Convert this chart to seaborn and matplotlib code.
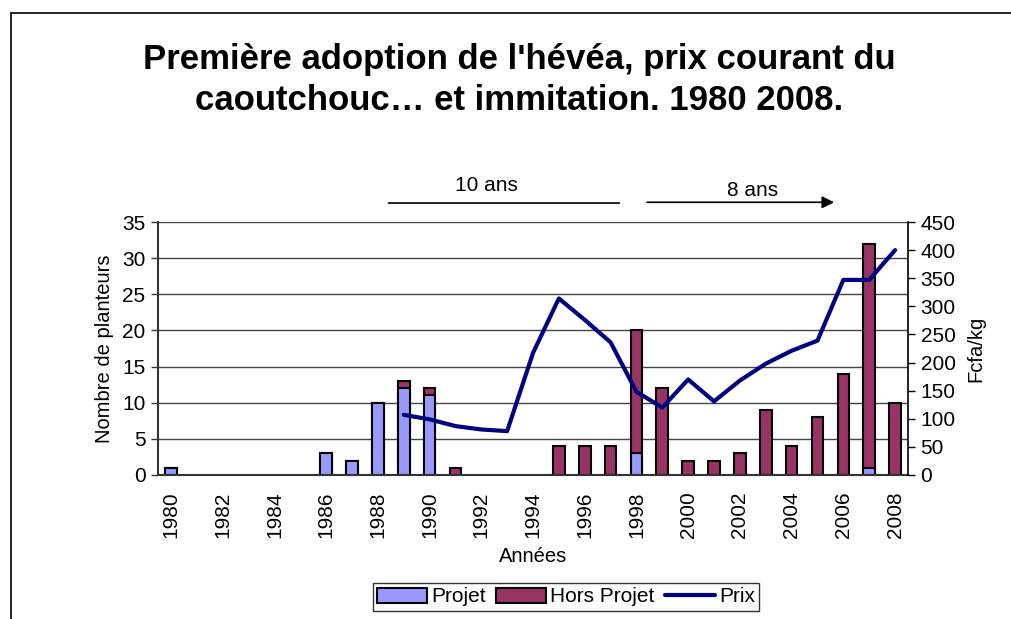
import numpy as np
import pandas as pd
import matplotlib
matplotlib.use("Agg")
import matplotlib.pyplot as plt
import matplotlib.transforms as mtransforms
from matplotlib.patches import Patch
from matplotlib.lines import Line2D
import seaborn as sns

# Data
years = list(range(1980, 2009))
projet = [1, 0, 0, 0, 0, 0, 3, 2, 10, 12, 11, 0, 0, 0, 0, 0, 0, 0, 3, 0,
          0, 0, 0, 0, 0, 0, 0, 1, 0]
hors_projet = [0, 0, 0, 0, 0, 0, 0, 0, 0, 1, 1, 1, 0, 0, 0, 4, 4, 4, 17, 12,
               2, 2, 3, 9, 4, 8, 14, 31, 10]
prix_years = list(range(1989, 2009))
prix = [107, 99, 87, 81, 78, 217, 314, 276, 236, 148, 120, 170, 131, 168,
        198, 221, 239, 347, 347, 400]
x_labels = [str(y) for y in range(1980, 2009, 2)]

df = pd.DataFrame({"annee": years, "projet": projet, "hors": hors_projet})
df["total"] = df["projet"] + df["hors"]
df_tot = df[df["total"] > 0]
df_proj = df[df["projet"] > 0]
df_prix = pd.DataFrame({"annee": prix_years, "prix": prix})

c_projet = "#9999FF"
c_hors = "#993366"
c_prix = "#000080"

sns.set_theme(style="white")
plt.rcParams["font.family"] = ["Liberation Sans", "DejaVu Sans"]
plt.rcParams.update({"text.color": "black", "axes.labelcolor": "black",
                     "xtick.color": "black", "ytick.color": "black"})

fig = plt.figure(figsize=(10.11, 6.19), dpi=100)
ax = fig.add_axes([158 / 1011, 1 - 475 / 619, 750 / 1011, 253 / 619])

# stacked bars: total first (Hors Projet colour), Projet drawn over the bottom part
sns.barplot(data=df_tot, x="annee", y="total", native_scale=True, width=0.45,
            color=c_hors, saturation=1, edgecolor="black", linewidth=1.5, ax=ax)
sns.barplot(data=df_proj, x="annee", y="projet", native_scale=True, width=0.45,
            color=c_projet, saturation=1, edgecolor="black", linewidth=1.5, ax=ax)

ax.set_xlim(1979.5, 2008.5)
ax.set_ylim(0, 35)
ax.set_yticks(range(0, 36, 5))
ax.set_xticks(range(1980, 2009, 2))
ax.set_xticklabels(x_labels, rotation=90)
ax.set_xticks(np.arange(1979.5, 2009, 1), minor=True)
ax.tick_params(axis="x", which="major", length=0, pad=12, labelsize=15)
ax.tick_params(axis="x", which="minor", length=5, width=1, color="#333333", direction="out")
ax.tick_params(axis="y", length=5, width=1, color="#333333", direction="out",
               labelsize=15, pad=4)
ax.grid(axis="y", color="#444444", linewidth=1)
ax.set_axisbelow(True)
for s in ["top", "right"]:
    ax.spines[s].set_visible(False)
for s in ["left", "bottom"]:
    ax.spines[s].set_color("#333333")
    ax.spines[s].set_linewidth(1.5)
ax.set_xlabel("Années", fontsize=14.5, labelpad=6)
ax.set_ylabel("Nombre de planteurs", fontsize=14.5, labelpad=6)

# price on the secondary axis
ax2 = ax.twinx()
sns.lineplot(data=df_prix, x="annee", y="prix", color=c_prix, linewidth=3, ax=ax2)
ax2.set_ylim(0, 450)
ax2.set_yticks(range(0, 451, 50))
ax2.tick_params(axis="y", length=5, width=1, color="black", direction="out",
                labelsize=15, pad=4)
ax2.grid(False)
for s in ["top", "left", "bottom"]:
    ax2.spines[s].set_visible(False)
ax2.spines["right"].set_color("black")
ax2.spines["right"].set_linewidth(1.2)
ax2.set_ylabel("Fcfa/kg", fontsize=14.5, labelpad=8)
ax2.set_xlabel("")

# period annotations above the plot
trans = mtransforms.blended_transform_factory(ax.transData, ax.transAxes)
ax.annotate("", xy=(1997.45, 1.075), xytext=(1988.3, 1.075), xycoords=trans,
            textcoords=trans, annotation_clip=False,
            arrowprops=dict(arrowstyle="-", color="black", lw=1.2))
ax.annotate("", xy=(2005.75, 1.078), xytext=(1998.3, 1.078), xycoords=trans,
            textcoords=trans, annotation_clip=False,
            arrowprops=dict(arrowstyle="-|>", color="black", lw=1.2,
                            mutation_scale=18))
ax.text(1992.2, 1.145, "10 ans", transform=trans, ha="center", va="center", fontsize=15)
ax.text(2002.5, 1.125, "8 ans", transform=trans, ha="center", va="center", fontsize=15)

fig.suptitle("Première adoption de l'hévéa, prix courant du\n"
             "caoutchouc… et immitation. 1980 2008.",
             x=519 / 1011, y=1 - 43 / 619, va="top", fontsize=25,
             fontweight="bold", linespacing=1.3)

handles = [Patch(facecolor=c_projet, edgecolor="black", linewidth=1.5),
           Patch(facecolor=c_hors, edgecolor="black", linewidth=1.5),
           Line2D([0], [0], color=c_prix, linewidth=3)]
leg = fig.legend(handles, ["Projet", "Hors Projet", "Prix"], loc="center",
                 bbox_to_anchor=(566 / 1011, 1 - 597 / 619), ncol=3,
                 fontsize=15, frameon=True, fancybox=False, handlelength=2.4,
                 handleheight=0.7, handletextpad=0.2, columnspacing=0.5,
                 borderpad=0.2, borderaxespad=0)
leg.get_frame().set_edgecolor("black")
leg.get_frame().set_linewidth(1)

# outer chart frame (left and top edges visible in the reference)
fig.add_artist(Line2D([11 / 1011, 11 / 1011], [0, 1 - 13 / 619], color="black", lw=1.2))
fig.add_artist(Line2D([11 / 1011, 1], [1 - 13 / 619, 1 - 13 / 619], color="black", lw=1.2))

fig.savefig("out.png", dpi=100)
